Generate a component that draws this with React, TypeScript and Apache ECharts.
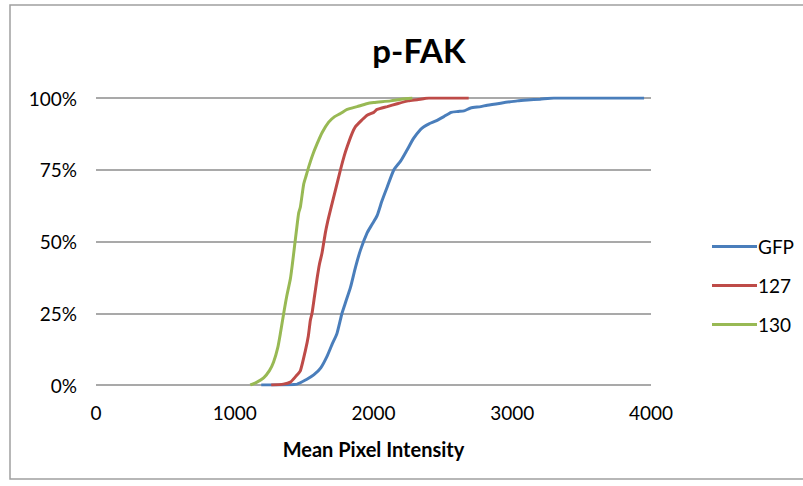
import React, { useEffect, useRef } from "react";
import * as echarts from "echarts";

const titleText = "p-FAK";
const xAxisName = "Mean Pixel Intensity";
const seriesNames = ["GFP", "127", "130"];
const seriesColors = ["#4A7EBB", "#BE4B48", "#98B954"];

// [mean pixel intensity, cumulative %]
const gfpData: [number, number][] = [
  [1191, 0], [1300, 0], [1448, 0.3], [1520, 2], [1569, 3.5], [1620, 6], [1665, 10],
  [1700, 14], [1737, 18], [1773, 25], [1800, 29], [1834, 34], [1870, 41], [1906, 47],
  [1954, 53], [1990, 56], [2026, 59], [2060, 64], [2099, 69], [2147, 75], [2195, 78],
  [2243, 82], [2290, 86], [2339, 89], [2363, 90], [2400, 91], [2450, 92], [2507, 93.5],
  [2560, 95], [2610, 95.3], [2652, 95.5], [2700, 96.5], [2773, 97], [2820, 97.5],
  [2917, 98.2], [3037, 99], [3110, 99.3], [3200, 99.6], [3300, 100], [3950, 100],
];
const d127Data: [number, number][] = [
  [1263, 0], [1350, 0.3], [1401, 1], [1440, 3], [1473, 5], [1509, 12], [1530, 17],
  [1545, 22.6], [1557, 25], [1575, 31], [1593, 37], [1610, 42], [1629, 46], [1653, 53],
  [1670, 57], [1690, 61], [1726, 68], [1762, 75], [1790, 80], [1810, 83], [1840, 87],
  [1870, 90], [1920, 92.5], [1954, 94], [2002, 95], [2026, 96], [2099, 97], [2171, 98],
  [2250, 99], [2314, 99.4], [2400, 100], [2686, 100],
];
const d130Data: [number, number][] = [
  [1112, 0], [1160, 1], [1208, 2.5], [1250, 5], [1280, 8], [1310, 13], [1329, 18],
  [1353, 25], [1375, 31], [1401, 37], [1415, 42], [1430, 48], [1445, 54], [1461, 60],
  [1473, 62], [1497, 70], [1515, 73], [1533, 76], [1560, 80], [1593, 84], [1630, 88],
  [1677, 91.6], [1720, 93.5], [1762, 94.6], [1810, 96], [1882, 97], [1950, 98],
  [2002, 98.4], [2123, 99], [2200, 99.6], [2280, 100],
];
const allData = [gfpData, d127Data, d130Data];

const xMin = 0;
const xMax = 4000;
const xInterval = 1000;
const yMin = 0;
const yMax = 100;
const yInterval = 25;

export default function App() {
  const ref = useRef<HTMLDivElement>(null);
  useEffect(() => {
    if (!ref.current) return;
    const chart = echarts.init(ref.current, null, { renderer: "svg" });
    const font = "Lato, 'Open Sans', sans-serif";
    chart.setOption({
      animation: false,
      backgroundColor: "#ffffff",
      title: {
        text: titleText,
        left: 414,
        textAlign: "center",
        top: 28,
        textStyle: { fontFamily: font, fontSize: 33, fontWeight: "bold", color: "#000" },
      },
      graphic: [
        {
          type: "rect",
          shape: { x: 10, y: 5, width: 800, height: 474 },
          style: { fill: "none", stroke: "#a0a0a0", lineWidth: 1.5 },
          silent: true,
        },
      ],
      legend: {
        orient: "vertical",
        left: 707,
        top: 232,
        itemWidth: 45,
        itemHeight: 3,
        itemGap: 20,
        icon: "rect",
        data: seriesNames,
        textStyle: { fontFamily: font, fontSize: 19, color: "#000", padding: [0, 0, 0, -4] },
      },
      grid: { left: 96, right: 152, top: 98, bottom: 101 },
      xAxis: {
        type: "value",
        min: xMin,
        max: xMax,
        interval: xInterval,
        name: xAxisName,
        nameLocation: "middle",
        nameGap: 54,
        nameTextStyle: { fontFamily: font, fontSize: 20, fontWeight: "bold", color: "#000" },
        axisLine: { show: false },
        axisTick: { show: false },
        splitLine: { show: false },
        axisLabel: {
          fontFamily: font,
          fontSize: 19,
          color: "#000",
          margin: 18,
          formatter: (v: number) => String(v),
        },
      },
      yAxis: {
        type: "value",
        min: yMin,
        max: yMax,
        interval: yInterval,
        axisLine: { show: false },
        axisTick: { show: false },
        splitLine: { show: true, lineStyle: { color: "#8c8c8c", width: 1.5 } },
        axisLabel: {
          fontFamily: font,
          fontSize: 19,
          color: "#000",
          margin: 19,
          formatter: (v: number) => `${v}%`,
        },
      },
      series: seriesNames.map((name, i) => ({
        name,
        type: "line",
        data: allData[i],
        showSymbol: false,
        smooth: 0.2,
        color: seriesColors[i],
        lineStyle: { width: 3, color: seriesColors[i] },
      })),
    });
    return () => chart.dispose();
  }, []);
  return (
    <div
      ref={ref}
      style={{ position: "absolute", left: 0, top: 0, width: 803, height: 486 }}
    />
  );
}
